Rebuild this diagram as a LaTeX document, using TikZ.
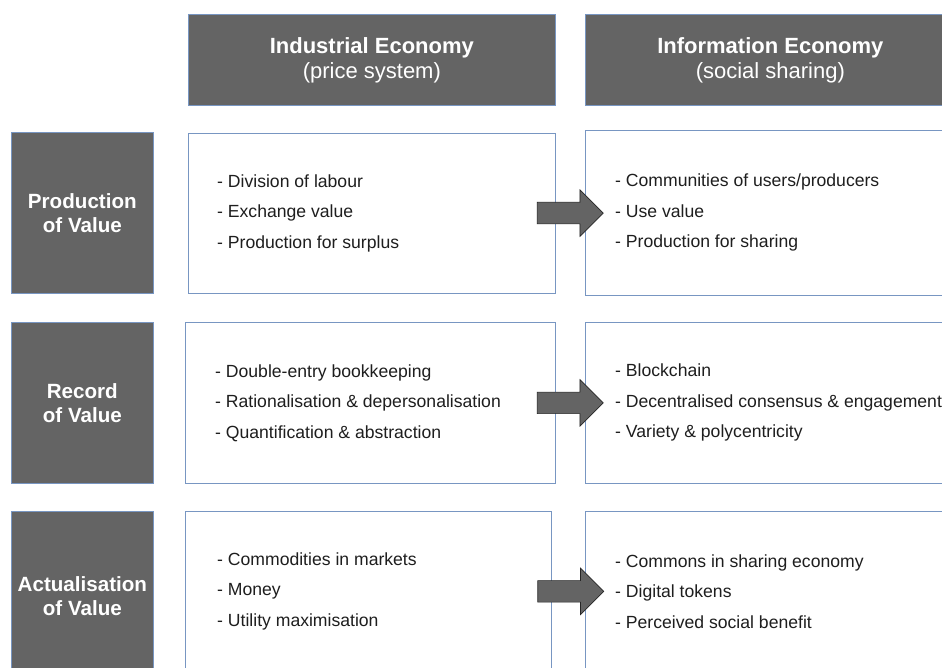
\documentclass[tikz,border=0pt]{standalone}
\usepackage{fontspec}
\setmainfont{Liberation Sans}
\usetikzlibrary{positioning,shapes.arrows,calc}

\definecolor{boxgray}{HTML}{646464}
\definecolor{edgeblue}{HTML}{7896C2}
\definecolor{itemtext}{HTML}{1E1E1E}

\tikzset{
  headbox/.style={draw=edgeblue, fill=boxgray, text=white, line width=0.7pt,
    minimum width=367pt, minimum height=91pt, inner sep=0pt, align=center,
    anchor=north west, font=\fontsize{22}{25}\selectfont},
  rowbox/.style={draw=edgeblue, fill=boxgray, text=white, line width=0.7pt,
    minimum width=142pt, minimum height=161pt, inner sep=0pt, align=center,
    anchor=north west, font=\fontsize{20.6}{24}\selectfont\bfseries},
  listbox/.style={draw=edgeblue, fill=white, line width=0.7pt,
    minimum width=367pt, minimum height=160pt, inner sep=0pt, anchor=north west},
  items/.style={align=left, inner sep=0pt, text=itemtext,
    font=\fontsize{17.6}{30.5}\selectfont},
  shiftarrow/.style={single arrow, draw=black!85, fill=boxgray, line width=0.6pt,
    minimum height=66pt, single arrow head extend=12.5pt,
    single arrow head indent=0pt, inner xsep=0pt, inner ysep=10.5pt,
    xshift=-5.5pt}
}

\begin{document}
\begin{tikzpicture}[x=1pt,y=-1pt]
  \useasboundingbox (0,0) rectangle (942,668);

  % column headers
  \node[headbox] (indhead) at (188,14) {\textbf{Industrial Economy}\\(price system)};
  \node[headbox, minimum width=370pt] (infhead) at (585,14) {\textbf{Information Economy}\\(social sharing)};

  % row labels
  \node[rowbox] (prodlabel) at (11,132) {Production\\of Value};
  \node[rowbox] (reclabel) at (11,322) {Record\\of Value};
  \node[rowbox, minimum height=170pt] (actlabel) at (11,511) {Actualisation\\of Value};

  % industrial economy column
  \node[listbox] (indprod) at (188,133) {};
  \node[listbox, minimum width=370pt, minimum height=161pt] (indrec) at (185,322) {};
  \node[listbox, minimum width=366pt] (indact) at (185,511) {};

  % information economy column
  \node[listbox, minimum width=370pt, minimum height=165pt] (infprod) at (585,130) {};
  \node[listbox, minimum width=370pt, minimum height=161pt] (infrec) at (585,322) {};
  \node[listbox, minimum width=370pt] (infact) at (585,511) {};

  % list entries
  \node[items, right=29pt of indprod.west] (indprodtxt)
    {- Division of labour\\- Exchange value\\- Production for surplus};
  \node[items, right=30pt of infprod.west] (infprodtxt)
    {- Communities of users/producers\\- Use value\\- Production for sharing};
  \node[items, right=30pt of indrec.west] (indrectxt)
    {- Double-entry bookkeeping\\- Rationalisation \& depersonalisation\\- Quantification \& abstraction};
  \node[items, right=30pt of infrec.west] (infrectxt)
    {- Blockchain\\- Decentralised consensus \& engagement\\- Variety \& polycentricity};
  \node[items, right=32pt of indact.west] (indacttxt)
    {- Commodities in markets\\- Money\\- Utility maximisation};
  \node[items, right=30pt of infact.west] (infacttxt)
    {- Commons in sharing economy\\- Digital tokens\\- Perceived social benefit};

  % transition arrows
  \node[shiftarrow] (prodshift) at ($(indprod.east)!0.5!(infprod.west)$) {};
  \node[shiftarrow] (recshift) at ($(indrec.east)!0.5!(infrec.west)$) {};
  \node[shiftarrow, xshift=2.5pt] (actshift) at ($(indact.east)!0.5!(infact.west)$) {};
\end{tikzpicture}
\end{document}
